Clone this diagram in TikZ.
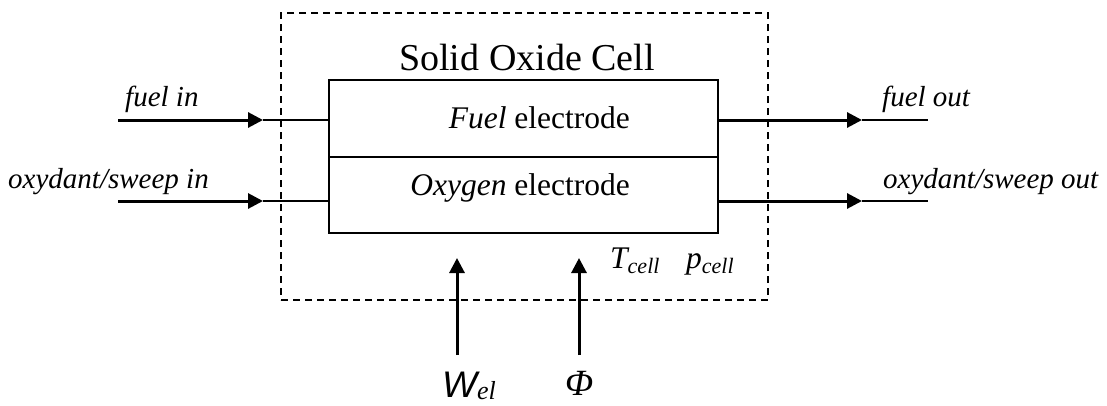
\documentclass[tikz,border=0pt]{standalone}
\usepackage{fontspec}
\setmainfont{Liberation Serif}
\newfontfamily\arialfam{Liberation Sans}
\usetikzlibrary{arrows.meta}
\begin{document}
\begin{tikzpicture}[x=1pt,y=-1pt,
  lbl/.style={inner sep=0pt,font=\fontsize{29}{33}\selectfont\itshape},
  txt/.style={inner sep=0pt,font=\fontsize{31.5}{35}\selectfont},
  big/.style={inner sep=0pt,font=\fontsize{37}{42}\selectfont},
  cellbox/.style={draw,line width=2pt,minimum width=389pt,inner sep=0pt},
  flow/.style={line width=3pt,-{Triangle[length=15pt,width=15pt]}},
  thinline/.style={line width=1.6pt},
  bound/.style={draw,dashed,dash pattern=on 7pt off 5pt,line width=1.5pt,minimum width=487pt,minimum height=287pt,inner sep=0pt}]
\useasboundingbox (0,0) rectangle (1107,405);
% system boundary
\node[bound] (soc) at (524.5,156.5) {};
\node[inner sep=0pt,anchor=base,font=\fontsize{38}{43}\selectfont] (title) at (527,70) {Solid Oxide Cell};
% cell
\node[cellbox,minimum height=77pt] (fuel) at (523.5,118.5) {};
\node[cellbox,minimum height=76pt] (oxy) at (523.5,195) {};
\node[txt,anchor=base east] (fueltxt) at (630,128) {\textit{Fuel} electrode};
\node[txt,anchor=base east] (oxytxt) at (630,195) {\textit{Oxygen} electrode};
% inlet/outlet coordinates
\coordinate (fin) at (118,120);
\coordinate (fintip) at (263,120);
\coordinate (oin) at (118,201);
\coordinate (ointip) at (263,201);
\coordinate (foutip) at (862,120);
\coordinate (fend) at (928,120);
\coordinate (ooutip) at (862,201);
\coordinate (oend) at (928,201);
% inlets
\draw[flow] (fin) -- (fintip);
\draw[thinline] (fintip) -- (fintip -| fuel.west);
\draw[flow] (oin) -- (ointip);
\draw[thinline] (ointip) -- (ointip -| oxy.west);
% outlets
\draw[flow] (fintip -| fuel.east) -- (foutip);
\draw[thinline] (foutip) -- (fend);
\draw[flow] (ointip -| oxy.east) -- (ooutip);
\draw[thinline] (ooutip) -- (oend);
% labels
\node[lbl,anchor=base west] (lfin) at (125,106) {fuel in};
\node[lbl,anchor=base west] (loin) at (8,188) {oxydant/sweep in};
\node[lbl,anchor=base west] (lfout) at (882,106) {fuel out};
\node[lbl,anchor=base west] (loout) at (883,188) {oxydant/sweep out};
% T and p
\node[txt,anchor=base west] (tcell) at (610,268) {\itshape T\raisebox{-0.18em}{\fontsize{22}{24}\selectfont cell}};
\node[txt,anchor=base west] (pcell) at (686,268) {\itshape p\raisebox{-0.18em}{\fontsize{22}{24}\selectfont cell}};
% power and heat
\coordinate (wb) at (457,355);
\coordinate (wt) at (457,258);
\coordinate (pb) at (579,355);
\coordinate (pt) at (579,258);
\draw[flow] (wb) -- (wt);
\draw[flow] (pb) -- (pt);
\node[big,anchor=base west] (wel) at (442,397) {{\arialfam\itshape W}\raisebox{-0.08em}{\fontsize{26}{28}\selectfont\itshape el}};
\node[big,anchor=base west] (phi) at (565,395) {\itshape Φ};
\end{tikzpicture}
\end{document}
